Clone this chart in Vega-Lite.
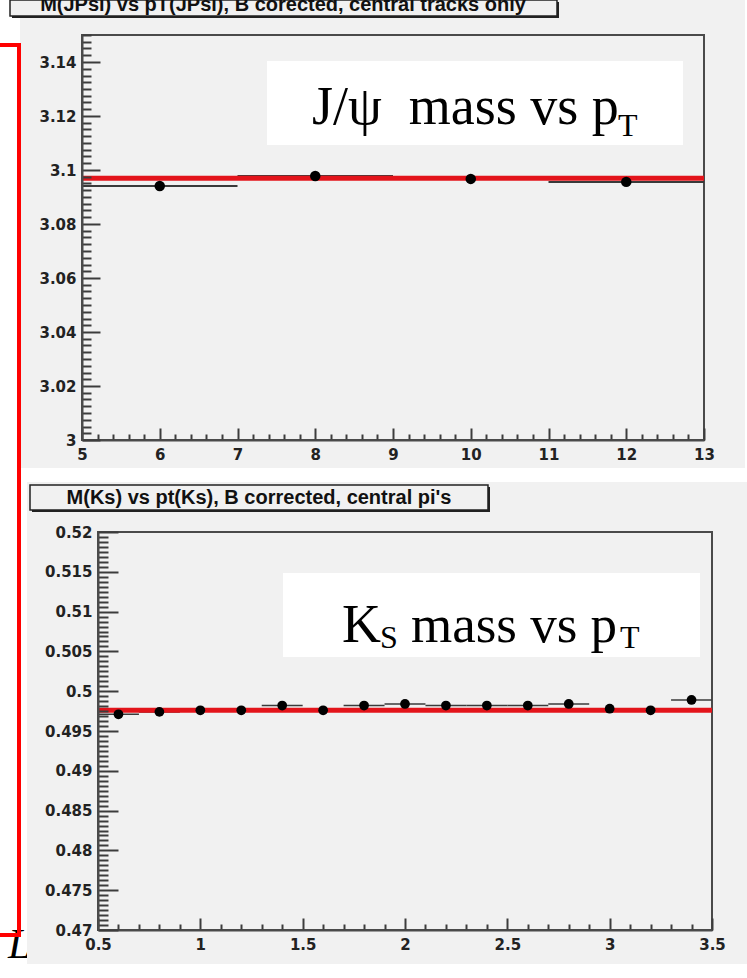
{
  "$schema": "https://vega.github.io/schema/vega-lite/v6.json",
  "background": "white",
  "padding": {"left": -2, "top": -6, "right": 0, "bottom": 0},
  "spacing": -5,
  "config": {
    "view": {"stroke": null},
    "axis": {
      "grid": false,
      "labelFont": "DejaVu Sans",
      "labelFontSize": 15,
      "labelFontWeight": "bold",
      "labelColor": "#222222",
      "labelFlush": false,
      "labelOverlap": false,
      "labelBound": false,
      "domainColor": "#4a4a4a",
      "domainWidth": 2,
      "tickColor": "#3c3c3c",
      "tickWidth": 2
    }
  },
  "vconcat": [
    {
      "width": 606,
      "height": 405,
      "data": {"values": [
        {"pt": 6, "lo": 5, "hi": 7, "m": 3.0941, "dm": 0.0008},
        {"pt": 8, "lo": 7, "hi": 9, "m": 3.0978, "dm": 0.0008},
        {"pt": 10, "lo": 9, "hi": 11, "m": 3.0967, "dm": 0.0008},
        {"pt": 12, "lo": 11, "hi": 13, "m": 3.0956, "dm": 0.0015}
      ]},
      "layer": [
        {
          "data": {"values": [{}]},
          "mark": {"type": "rect", "fill": "#f1f1f1"},
          "encoding": {
            "x": {"datum": 4.2026, "type": "quantitative", "title": null,
              "scale": {"domain": [5, 13], "range": [-16, 606], "nice": false, "zero": false},
              "axis": {
                "title": null,
                "zindex": 2,
                "tickCount": 1000,
                "labelOverlap": false,
                "values": [5,5.2,5.4,5.6,5.8,6,6.2,6.4,6.6,6.8,7,7.2,7.4,7.6,7.8,8,8.2,8.4,8.6,8.8,9,9.2,9.4,9.6,9.8,10,10.2,10.4,10.6,10.8,11,11.2,11.4,11.6,11.8,12,12.2,12.4,12.6,12.8,13],
                "labelExpr": "abs(datum.value - round(datum.value)) < 1e-6 ? toString(round(datum.value)) : ''",
                "tickSize": {"condition": {"test": "abs(datum.value - round(datum.value)) < 1e-6", "value": -12}, "value": -6},
                "labelPadding": 19
              }},
            "x2": {"datum": 13.5273},
            "y": {"datum": 2.98963, "type": "quantitative", "title": null,
              "scale": {"domain": [3, 3.15], "nice": false, "zero": false},
              "axis": {
                "title": null,
                "zindex": 2,
                "offset": 16,
                "tickCount": 1000,
                "labelOverlap": false,
                "values": [3,3.0025,3.005,3.0075,3.01,3.0125,3.015,3.0175,3.02,3.0225,3.025,3.0275,3.03,3.0325,3.035,3.0375,3.04,3.0425,3.045,3.0475,3.05,3.0525,3.055,3.0575,3.06,3.0625,3.065,3.0675,3.07,3.0725,3.075,3.0775,3.08,3.0825,3.085,3.0875,3.09,3.0925,3.095,3.0975,3.1,3.1025,3.105,3.1075,3.11,3.1125,3.115,3.1175,3.12,3.1225,3.125,3.1275,3.13,3.1325,3.135,3.1375,3.14,3.1425,3.145,3.1475,3.15],
                "labelExpr": "abs(datum.value * 50 - round(datum.value * 50)) < 1e-6 ? toString(round(datum.value * 100) / 100) : ''",
                "tickSize": {"condition": {"test": "abs(datum.value * 50 - round(datum.value * 50)) < 1e-6", "value": -18}, "value": -9},
                "labelPadding": 24
              }},
            "y2": {"datum": 3.16296}
          }
        },
        {
          "data": {"values": [{}]},
          "mark": {"type": "rect", "fill": "#222222"},
          "encoding": {
            "x": {"datum": 4.0997, "type": "quantitative", "title": null},
            "x2": {"datum": 11.135},
            "y": {"datum": 3.16222, "type": "quantitative", "title": null},
            "y2": {"datum": 3.1563}
          }
        },
        {
          "data": {"values": [{}]},
          "mark": {"type": "rect", "fill": "#f1f1f1", "stroke": "#222222", "strokeWidth": 1.5},
          "encoding": {
            "x": {"datum": 4.074, "type": "quantitative", "title": null},
            "x2": {"datum": 11.1093},
            "y": {"datum": 3.16296, "type": "quantitative", "title": null},
            "y2": {"datum": 3.15704}
          }
        },
        {
          "data": {"values": [{"title": "M(JPsi) vs pT(JPsi), B corected, central tracks only"}]},
          "mark": {"type": "text", "align": "center", "baseline": "alphabetic", "font": "Liberation Sans", "fontWeight": "bold", "fontSize": 20, "color": "#111111"},
          "encoding": {
            "x": {"datum": 7.5852, "type": "quantitative", "title": null},
            "y": {"datum": 3.15889, "type": "quantitative", "title": null},
            "text": {"field": "title"}
          }
        },
        {
          "data": {"values": [{}]},
          "mark": {"type": "rule", "color": "#ff0000", "strokeWidth": 4, "strokeCap": "butt"},
          "encoding": {
            "x": {"datum": 3.94534, "type": "quantitative", "title": null},
            "x2": {"datum": 4.21543},
            "y": {"datum": 3.1463, "type": "quantitative", "title": null}
          }
        },
        {
          "data": {"values": [{}]},
          "mark": {"type": "rule", "color": "#ff0000", "strokeWidth": 4, "strokeCap": "butt"},
          "encoding": {
            "x": {"datum": 4.18971, "type": "quantitative", "title": null},
            "y": {"datum": 3.14704, "type": "quantitative", "title": null},
            "y2": {"datum": 2.98667}
          }
        },
        {
          "data": {"values": [{}]},
          "mark": {"type": "rect", "fill": "white"},
          "encoding": {
            "x": {"datum": 7.3794, "type": "quantitative", "title": null},
            "x2": {"datum": 12.7299},
            "y": {"datum": 3.14037, "type": "quantitative", "title": null},
            "y2": {"datum": 3.10926}
          }
        },
        {
          "data": {"values": [{"label": "J/ψ \u00a0mass vs p"}]},
          "mark": {"type": "text", "align": "left", "baseline": "alphabetic", "font": "Liberation Serif", "fontSize": 54, "color": "black"},
          "encoding": {
            "x": {"datum": 7.9582, "type": "quantitative", "title": null},
            "y": {"datum": 3.11704, "type": "quantitative", "title": null},
            "text": {"field": "label"}
          }
        },
        {
          "data": {"values": [{"label": "T"}]},
          "mark": {"type": "text", "align": "left", "baseline": "alphabetic", "font": "Liberation Serif", "fontSize": 32, "color": "black"},
          "encoding": {
            "x": {"datum": 11.894, "type": "quantitative", "title": null},
            "y": {"datum": 3.11259, "type": "quantitative", "title": null},
            "text": {"field": "label"}
          }
        },
        {
          "data": {"values": [{}]},
          "mark": {"type": "rect", "fillOpacity": 0, "stroke": "#4a4a4a", "strokeWidth": 2},
          "encoding": {
            "x": {"datum": 5, "type": "quantitative", "title": null},
            "x2": {"datum": 13},
            "y": {"datum": 3, "type": "quantitative", "title": null},
            "y2": {"datum": 3.15}
          }
        },
        {
          "mark": {"type": "rule", "color": "#3a3a3a", "strokeWidth": 2},
          "encoding": {
            "x": {"field": "lo", "type": "quantitative", "title": null},
            "x2": {"field": "hi"},
            "y": {"field": "m", "type": "quantitative", "title": null}
          }
        },
        {
          "mark": {"type": "errorbar", "ticks": false, "rule": {"color": "#222222", "strokeWidth": 1.5}},
          "encoding": {
            "x": {"field": "pt", "type": "quantitative", "title": null},
            "y": {"field": "m", "type": "quantitative", "title": null},
            "yError": {"field": "dm"}
          }
        },
        {
          "data": {"values": [{"fit_mass": 3.0969}]},
          "mark": {"type": "rule", "color": "#e3141b", "strokeWidth": 5},
          "encoding": {
            "x": {"datum": 5, "type": "quantitative", "title": null},
            "x2": {"datum": 13},
            "y": {"field": "fit_mass", "type": "quantitative", "title": null}
          }
        },
        {
          "mark": {"type": "circle", "color": "black", "opacity": 1, "size": 110},
          "encoding": {
            "x": {"field": "pt", "type": "quantitative", "title": null},
            "y": {"field": "m", "type": "quantitative", "title": null}
          }
        }
      ]
    },
    {
      "width": 614,
      "height": 398,
      "data": {"values": [
        {"pt": 0.6, "lo": 0.5, "hi": 0.7, "m": 0.4971, "dm": 0.0005},
        {"pt": 0.8, "lo": 0.7, "hi": 0.9, "m": 0.4974, "dm": 0.0003},
        {"pt": 1.0, "lo": 0.9, "hi": 1.1, "m": 0.4976, "dm": 0.0003},
        {"pt": 1.2, "lo": 1.1, "hi": 1.3, "m": 0.4976, "dm": 0.0003},
        {"pt": 1.4, "lo": 1.3, "hi": 1.5, "m": 0.4982, "dm": 0.0003},
        {"pt": 1.6, "lo": 1.5, "hi": 1.7, "m": 0.4976, "dm": 0.0003},
        {"pt": 1.8, "lo": 1.7, "hi": 1.9, "m": 0.4982, "dm": 0.0003},
        {"pt": 2.0, "lo": 1.9, "hi": 2.1, "m": 0.4984, "dm": 0.0003},
        {"pt": 2.2, "lo": 2.1, "hi": 2.3, "m": 0.4982, "dm": 0.0003},
        {"pt": 2.4, "lo": 2.3, "hi": 2.5, "m": 0.4982, "dm": 0.0003},
        {"pt": 2.6, "lo": 2.5, "hi": 2.7, "m": 0.4982, "dm": 0.0003},
        {"pt": 2.8, "lo": 2.7, "hi": 2.9, "m": 0.4984, "dm": 0.0003},
        {"pt": 3.0, "lo": 2.9, "hi": 3.1, "m": 0.4978, "dm": 0.0003},
        {"pt": 3.2, "lo": 3.1, "hi": 3.3, "m": 0.4976, "dm": 0.0003},
        {"pt": 3.4, "lo": 3.3, "hi": 3.5, "m": 0.4989, "dm": 0.0004}
      ]},
      "layer": [
        {
          "data": {"values": [{"letter": "L"}]},
          "mark": {"type": "text", "align": "left", "baseline": "alphabetic", "font": "Liberation Serif", "fontStyle": "italic", "fontSize": 42, "color": "black"},
          "encoding": {
            "x": {"datum": 0.06026, "type": "quantitative", "title": null,
              "scale": {"domain": [0.5, 3.5], "nice": false, "zero": false},
              "axis": {
                "title": null,
                "zindex": 2,
                "tickCount": 1000,
                "labelOverlap": false,
                "values": [0.5,0.6,0.7,0.8,0.9,1,1.1,1.2,1.3,1.4,1.5,1.6,1.7,1.8,1.9,2,2.1,2.2,2.3,2.4,2.5,2.6,2.7,2.8,2.9,3,3.1,3.2,3.3,3.4,3.5],
                "labelExpr": "abs(datum.value * 2 - round(datum.value * 2)) < 1e-6 ? toString(round(datum.value * 10) / 10) : ''",
                "tickSize": {"condition": {"test": "abs(datum.value * 2 - round(datum.value * 2)) < 1e-6", "value": -12}, "value": -6},
                "labelPadding": 19
              }},
            "y": {"datum": 0.46648, "type": "quantitative", "title": null,
              "scale": {"domain": [0.47, 0.52], "nice": false, "zero": false},
              "axis": {
                "title": null,
                "zindex": 2,
                "tickCount": 1000,
                "labelOverlap": false,
                "values": [0.47,0.470625,0.47125,0.471875,0.4725,0.473125,0.47375,0.474375,0.475,0.475625,0.47625,0.476875,0.4775,0.478125,0.47875,0.479375,0.48,0.480625,0.48125,0.481875,0.4825,0.483125,0.48375,0.484375,0.485,0.485625,0.48625,0.486875,0.4875,0.488125,0.48875,0.489375,0.49,0.490625,0.49125,0.491875,0.4925,0.493125,0.49375,0.494375,0.495,0.495625,0.49625,0.496875,0.4975,0.498125,0.49875,0.499375,0.5,0.500625,0.50125,0.501875,0.5025,0.503125,0.50375,0.504375,0.505,0.505625,0.50625,0.506875,0.5075,0.508125,0.50875,0.509375,0.51,0.510625,0.51125,0.511875,0.5125,0.513125,0.51375,0.514375,0.515,0.515625,0.51625,0.516875,0.5175,0.518125,0.51875,0.519375,0.52],
                "labelExpr": "abs(datum.value * 200 - round(datum.value * 200)) < 1e-6 ? toString(round(datum.value * 1000) / 1000) : ''",
                "tickSize": {"condition": {"test": "abs(datum.value * 200 - round(datum.value * 200)) < 1e-6", "value": -20}, "value": -10},
                "labelPadding": 26
              }},
            "text": {"field": "letter"}
          }
        },
        {
          "data": {"values": [{}]},
          "mark": {"type": "rect", "fill": "#f1f1f1"},
          "encoding": {
            "x": {"datum": 0.1531, "type": "quantitative", "title": null},
            "x2": {"datum": 3.67099},
            "y": {"datum": 0.52628, "type": "quantitative", "title": null},
            "y2": {"datum": 0.46573}
          }
        },
        {
          "data": {"values": [{}]},
          "mark": {"type": "rect", "fill": "#222222"},
          "encoding": {
            "x": {"datum": 0.17753, "type": "quantitative", "title": null},
            "x2": {"datum": 2.41528},
            "y": {"datum": 0.52565, "type": "quantitative", "title": null},
            "y2": {"datum": 0.5225}
          }
        },
        {
          "data": {"values": [{}]},
          "mark": {"type": "rect", "fill": "#f1f1f1", "stroke": "#222222", "strokeWidth": 1.5},
          "encoding": {
            "x": {"datum": 0.16776, "type": "quantitative", "title": null},
            "x2": {"datum": 2.40551},
            "y": {"datum": 0.5259, "type": "quantitative", "title": null},
            "y2": {"datum": 0.52276}
          }
        },
        {
          "data": {"values": [{"title": "M(Ks) vs pt(Ks), B corrected, central pi's"}]},
          "mark": {"type": "text", "align": "center", "baseline": "alphabetic", "font": "Liberation Sans", "fontWeight": "bold", "fontSize": 20, "color": "#111111"},
          "encoding": {
            "x": {"datum": 1.28664, "type": "quantitative", "title": null},
            "y": {"datum": 0.52352, "type": "quantitative", "title": null},
            "text": {"field": "title"}
          }
        },
        {
          "data": {"values": [{}]},
          "mark": {"type": "rule", "color": "#ff0000", "strokeWidth": 4, "strokeCap": "butt"},
          "encoding": {
            "x": {"datum": 0.11401, "type": "quantitative", "title": null},
            "y": {"datum": 0.52704, "type": "quantitative", "title": null},
            "y2": {"datum": 0.46912}
          }
        },
        {
          "data": {"values": [{}]},
          "mark": {"type": "rule", "color": "#ff0000", "strokeWidth": 4, "strokeCap": "butt"},
          "encoding": {
            "x": {"datum": 0.02118, "type": "quantitative", "title": null},
            "x2": {"datum": 0.12378},
            "y": {"datum": 0.46937, "type": "quantitative", "title": null}
          }
        },
        {
          "data": {"values": [{}]},
          "mark": {"type": "rect", "fill": "white"},
          "encoding": {
            "x": {"datum": 1.40389, "type": "quantitative", "title": null},
            "x2": {"datum": 3.44131},
            "y": {"datum": 0.51485, "type": "quantitative", "title": null},
            "y2": {"datum": 0.5043}
          }
        },
        {
          "data": {"values": [{"label": "K"}]},
          "mark": {"type": "text", "align": "left", "baseline": "alphabetic", "font": "Liberation Serif", "fontSize": 54, "color": "black"},
          "encoding": {
            "x": {"datum": 1.69217, "type": "quantitative", "title": null},
            "y": {"datum": 0.50618, "type": "quantitative", "title": null},
            "text": {"field": "label"}
          }
        },
        {
          "data": {"values": [{"label": "S"}]},
          "mark": {"type": "text", "align": "left", "baseline": "alphabetic", "font": "Liberation Serif", "fontSize": 32, "color": "black"},
          "encoding": {
            "x": {"datum": 1.87783, "type": "quantitative", "title": null},
            "y": {"datum": 0.50543, "type": "quantitative", "title": null},
            "text": {"field": "label"}
          }
        },
        {
          "data": {"values": [{"label": "mass vs p"}]},
          "mark": {"type": "text", "align": "left", "baseline": "alphabetic", "font": "Liberation Serif", "fontSize": 53, "color": "black"},
          "encoding": {
            "x": {"datum": 2.02929, "type": "quantitative", "title": null},
            "y": {"datum": 0.50618, "type": "quantitative", "title": null},
            "text": {"field": "label"}
          }
        },
        {
          "data": {"values": [{"label": "T"}]},
          "mark": {"type": "text", "align": "left", "baseline": "alphabetic", "font": "Liberation Serif", "fontSize": 32, "color": "black"},
          "encoding": {
            "x": {"datum": 3.05046, "type": "quantitative", "title": null},
            "y": {"datum": 0.50543, "type": "quantitative", "title": null},
            "text": {"field": "label"}
          }
        },
        {
          "data": {"values": [{}]},
          "mark": {"type": "rect", "fillOpacity": 0, "stroke": "#4a4a4a", "strokeWidth": 2},
          "encoding": {
            "x": {"datum": 0.5, "type": "quantitative", "title": null},
            "x2": {"datum": 3.5},
            "y": {"datum": 0.47, "type": "quantitative", "title": null},
            "y2": {"datum": 0.52}
          }
        },
        {
          "mark": {"type": "rule", "color": "#3a3a3a", "strokeWidth": 1.5},
          "encoding": {
            "x": {"field": "lo", "type": "quantitative", "title": null},
            "x2": {"field": "hi"},
            "y": {"field": "m", "type": "quantitative", "title": null}
          }
        },
        {
          "mark": {"type": "errorbar", "ticks": false, "rule": {"color": "#222222", "strokeWidth": 1.5}},
          "encoding": {
            "x": {"field": "pt", "type": "quantitative", "title": null},
            "y": {"field": "m", "type": "quantitative", "title": null},
            "yError": {"field": "dm"}
          }
        },
        {
          "data": {"values": [{"fit_mass": 0.4976}]},
          "mark": {"type": "rule", "color": "#e3141b", "strokeWidth": 5},
          "encoding": {
            "x": {"datum": 0.5, "type": "quantitative", "title": null},
            "x2": {"datum": 3.5},
            "y": {"field": "fit_mass", "type": "quantitative", "title": null}
          }
        },
        {
          "mark": {"type": "circle", "color": "black", "opacity": 1, "size": 95},
          "encoding": {
            "x": {"field": "pt", "type": "quantitative", "title": null},
            "y": {"field": "m", "type": "quantitative", "title": null}
          }
        }
      ]
    }
  ]
}
